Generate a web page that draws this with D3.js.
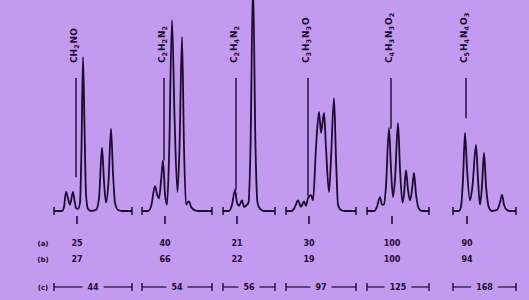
<!DOCTYPE html>
<html>
<head>
<meta charset="utf-8">
<script src="https://cdn.jsdelivr.net/npm/d3@7"></script>
<style>
  html, body { margin: 0; padding: 0; background: #c29bf1; }
  svg { display: block; }
  text { font-family: "DejaVu Sans", "Liberation Sans", sans-serif; font-weight: bold; fill: #1c0c2c; }
</style>
</head>
<body>
<div id="viz"></div>
<script>
var width = 529,
    height = 300;

var ink = '#1c0c2c';

// formulas, digits after letters are subscripts
var formulas = ['CH2NO', 'C2H2N2', 'C2H4N2', 'C3H3N3O', 'C4H3N3O2', 'C5H4N4O3'];
var rowA = ['25', '40', '21', '30', '100', '90'];
var rowB = ['27', '66', '22', '19', '100', '94'];
var masses = ['44', '54', '56', '97', '125', '168'];

// scan positions
var panelStart = [54, 142, 223, 286, 367, 453];
var panelEnd = [132, 212, 275, 356, 429, 516];
var markerPos = [76, 164, 236, 308, 391, 466];
var markerTop = [63, 63, 63, 63, 63, 63];
var markerBottom = [16, 24, 10, 7, 39, 44];

// traces: [position, intensity]
var trace1 = [[54,0],[62,0],[64,2],[66,9],[68,6],[70,3],[73,9],[74.5,5],[76,1.5],[78,1],[80,4],[81.5,30],[83,73],[84.5,40],[86,8],[88,1],[91,0],[96,0.5],[99,6],[102,30],[104,14],[106,4],[108.5,14],[111,39],[113,18],[115,4],[118,0.5],[122,0],[132,0]];
var trace2 = [[142,0],[148,0],[151,2],[155,11.8],[157,8],[159,6],[161,14],[163,24],[165,8],[167,3],[169,25],[172,90.5],[174.5,45],[177.5,9],[179.5,30],[182,82.5],[184,30],[186,3],[187.5,4],[189,4.5],[191,2],[195,0.3],[199,0],[212,0]];
var trace3 = [[223,0],[229,0],[232,3],[235,10],[237,4],[239,2.5],[242,5],[244,2],[246,2.5],[248.5,4],[250.5,30],[253,108],[255.5,30],[257.5,4],[260,1],[264,0],[275,0]];
var trace4 = [[286,0],[292,0],[295,2],[298,5],[301,2],[304,4.5],[306,2.5],[308,6],[311,7.5],[313,5],[316,30],[319,47],[321,37],[324,46.5],[326,30],[329,9],[331,25],[334,53.5],[336,25],[338,3],[341,0.5],[345,0],[356,0]];
var trace5 = [[367,0],[374,0],[377,2],[380,6.6],[382,3],[384,3],[386,12],[389,39.3],[391,20],[393,6.6],[395,15],[398,41.7],[400,20],[402.5,4],[404,8],[406,19.4],[408,10],[410,5],[412,10],[414,18],[416,8],[419,1],[422,0],[429,0]];
var trace6 = [[453,0],[459,0],[461,2],[463,15],[465,37],[467,20],[470,5],[472.5,12],[476,31.3],[478,15],[480,3],[482,12],[484,27.5],[486,12],[489,1.5],[492,0],[497,0.5],[500,4],[502,7.6],[504,3],[507,0.5],[510,0],[516,0]];
var traces = [trace1, trace2, trace3, trace4, trace5, trace6];

var svg = d3.select('#viz')
  .append('svg')
  .attr('width', width)
  .attr('height', height)
  .style('background', '#c29bf1');

var x = d3.scaleLinear().domain([0, 529]).range([0, width]);
var y = d3.scaleLinear().domain([0, 100]).range([211, 0]);

var line = d3.line()
  .x(function(d) { return x(d[0]); })
  .y(function(d) { return y(d[1]); })
  .curve(d3.curveMonotoneX);

var g = svg.append('g');

//spectra
g.selectAll('path.trace')
  .data(traces)
  .enter().append('path')
  .attr('class', 'trace')
  .attr('d', line)
  .attr('fill', 'none')
  .attr('stroke', ink)
  .attr('stroke-width', 1.8)
  .attr('stroke-linejoin', 'round');

//end ticks of each trace
formulas.forEach(function(f, i) {
  [panelStart[i], panelEnd[i]].forEach(function(p) {
    g.append('line')
      .attr('x1', x(p)).attr('x2', x(p))
      .attr('y1', y(0) - 4).attr('y2', y(0) + 4)
      .attr('stroke', ink).attr('stroke-width', 1.5);
  });

  //reference line
  g.append('line')
    .attr('x1', x(markerPos[i])).attr('x2', x(markerPos[i]))
    .attr('y1', y(markerTop[i])).attr('y2', y(markerBottom[i]))
    .attr('stroke', ink).attr('stroke-width', 1.4);

  //tick under baseline
  g.append('line')
    .attr('x1', x(markerPos[i]) + 1).attr('x2', x(markerPos[i]) + 1)
    .attr('y1', 216).attr('y2', 224)
    .attr('stroke', ink).attr('stroke-width', 1.6);

  //rotated formula
  var t = g.append('text')
    .attr('transform', 'translate(' + (x(markerPos[i]) + 0.5) + ',63) rotate(-90)')
    .style('font-size', '9px');
  f.match(/[A-Z][a-z]?|\d+/g).forEach(function(part) {
    if (/\d/.test(part)) {
      t.append('tspan').attr('dy', 2.5).style('font-size', '6.5px').text(part);
      t.append('tspan').attr('dy', -2.5).text('\u200a');
    } else {
      t.append('tspan').text(part);
    }
  });

  //rows (a) and (b)
  g.append('text')
    .attr('x', x(markerPos[i]) + 1).attr('y', 246)
    .attr('text-anchor', 'middle')
    .style('font-size', '8px')
    .text(rowA[i]);
  g.append('text')
    .attr('x', x(markerPos[i]) + 1).attr('y', 262)
    .attr('text-anchor', 'middle')
    .style('font-size', '8px')
    .text(rowB[i]);

  //mass range bar
  var x0 = x(panelStart[i]), x1 = x(panelEnd[i]), xm = (x0 + x1) / 2;
  var gap = masses[i].length * 2.8 + 5;
  [[x0, xm - gap], [xm + gap, x1]].forEach(function(s) {
    g.append('line')
      .attr('x1', s[0]).attr('x2', s[1])
      .attr('y1', 287).attr('y2', 287)
      .attr('stroke', ink).attr('stroke-width', 1.2);
  });
  [x0, x1].forEach(function(p) {
    g.append('line')
      .attr('x1', p).attr('x2', p)
      .attr('y1', 283).attr('y2', 291)
      .attr('stroke', ink).attr('stroke-width', 1.4);
  });
  g.append('text')
    .attr('x', xm).attr('y', 290)
    .attr('text-anchor', 'middle')
    .style('font-size', '8px')
    .text(masses[i]);
});

//row names
[['(a)', 246], ['(b)', 262], ['(c)', 290]].forEach(function(r) {
  g.append('text')
    .attr('x', 43).attr('y', r[1])
    .attr('text-anchor', 'middle')
    .style('font-size', '7px')
    .text(r[0]);
});
</script>
</body>
</html>
